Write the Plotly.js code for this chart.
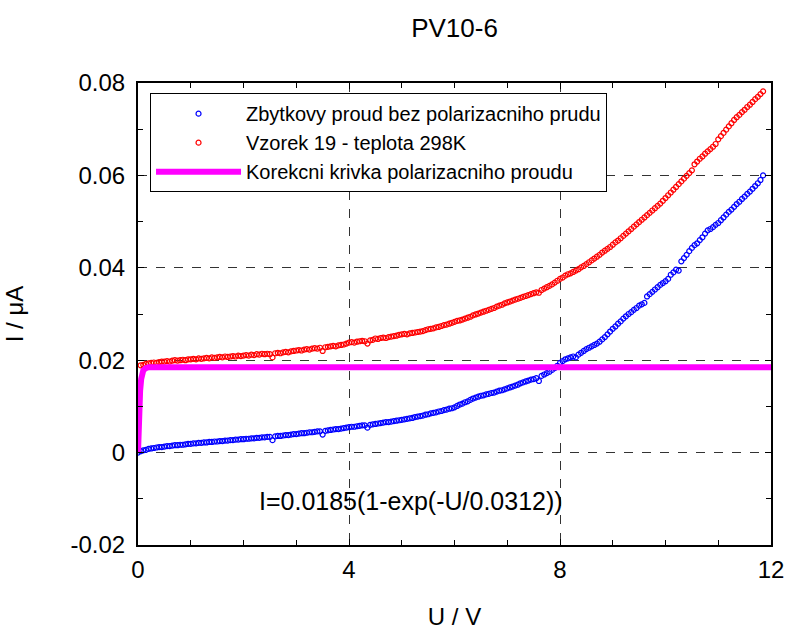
<!DOCTYPE html>
<html>
<head>
<meta charset="utf-8">
<script src="https://cdn.plot.ly/plotly-3.0.1.min.js"></script>
<style>html,body{margin:0;padding:0;background:#fff;}#chart{width:787px;height:631px;}</style>
</head>
<body>
<div id="chart"></div>
<script>
// Voltage U (V)
const U = [
 0,0.05,0.1,0.15,0.2,0.25,0.3,0.35,0.4,0.45,0.5,0.55,0.6,0.65,0.7,0.75,0.8,0.85,0.9,0.95,
 1,1.05,1.1,1.15,1.2,1.25,1.3,1.35,1.4,1.45,1.5,1.55,1.6,1.65,1.7,1.75,1.8,1.85,1.9,1.95,
 2,2.05,2.1,2.15,2.2,2.25,2.3,2.35,2.4,2.45,2.5,2.55,2.6,2.65,2.7,2.75,2.8,2.85,2.9,2.95,
 3,3.05,3.1,3.15,3.2,3.25,3.3,3.35,3.4,3.45,3.5,3.55,3.6,3.65,3.7,3.75,3.8,3.85,3.9,3.95,
 4,4.05,4.1,4.15,4.2,4.25,4.3,4.35,4.4,4.45,4.5,4.55,4.6,4.65,4.7,4.75,4.8,4.85,4.9,4.95,
 5,5.05,5.1,5.15,5.2,5.25,5.3,5.35,5.4,5.45,5.5,5.55,5.6,5.65,5.7,5.75,5.8,5.85,5.9,5.95,
 6,6.05,6.1,6.15,6.2,6.25,6.3,6.35,6.4,6.45,6.5,6.55,6.6,6.65,6.7,6.75,6.8,6.85,6.9,6.95,
 7,7.05,7.1,7.15,7.2,7.25,7.3,7.35,7.4,7.45,7.5,7.55,7.6,7.65,7.7,7.75,7.8,7.85,7.9,7.95,
 8,8.05,8.1,8.15,8.2,8.25,8.3,8.35,8.4,8.45,8.5,8.55,8.6,8.65,8.7,8.75,8.8,8.85,8.9,8.95,
 9,9.05,9.1,9.15,9.2,9.25,9.3,9.35,9.4,9.45,9.5,9.55,9.6,9.65,9.7,9.75,9.8,9.85,9.9,9.95,
 10,10.05,10.1,10.15,10.2,10.25,10.3,10.35,10.4,10.45,10.5,10.55,10.6,10.65,10.7,10.75,10.8,10.85,10.9,10.95,
 11,11.05,11.1,11.15,11.2,11.25,11.3,11.35,11.4,11.45,11.5,11.55,11.6,11.65,11.7,11.75,11.8,11.85
];

// Zbytkovy proud bez polarizacniho prudu (blue)
const residual = [
 0.0000,0.0003,0.0005,0.0006,0.0008,0.0009,0.0010,0.0011,0.0012,0.0012,0.0013,0.0014,0.0014,0.0015,0.0016,0.0016,0.0017,0.0017,0.0018,0.0019,
 0.0019,0.0020,0.0020,0.0021,0.0021,0.0022,0.0022,0.0023,0.0023,0.0024,0.0024,0.0025,0.0025,0.0026,0.0026,0.0027,0.0027,0.0028,0.0028,0.0029,
 0.0029,0.0030,0.0030,0.0031,0.0031,0.0032,0.0032,0.0033,0.0033,0.0034,0.0034,0.0027,0.0035,0.0036,0.0036,0.0037,0.0038,0.0038,0.0039,0.0040,
 0.0040,0.0041,0.0042,0.0042,0.0043,0.0044,0.0044,0.0045,0.0046,0.0046,0.0039,0.0047,0.0048,0.0049,0.0050,0.0051,0.0051,0.0052,0.0053,0.0054,
 0.0055,0.0056,0.0056,0.0057,0.0058,0.0059,0.0059,0.0054,0.0060,0.0061,0.0062,0.0063,0.0064,0.0065,0.0066,0.0066,0.0067,0.0068,0.0069,0.0070,
 0.0071,0.0072,0.0073,0.0074,0.0075,0.0077,0.0078,0.0079,0.0080,0.0082,0.0083,0.0085,0.0086,0.0087,0.0089,0.0090,0.0092,0.0093,0.0095,0.0096,
 0.0098,0.0101,0.0104,0.0106,0.0109,0.0111,0.0114,0.0117,0.0119,0.0121,0.0123,0.0124,0.0126,0.0127,0.0129,0.0130,0.0132,0.0134,0.0135,0.0137,
 0.0139,0.0141,0.0143,0.0145,0.0147,0.0150,0.0152,0.0154,0.0156,0.0158,0.0159,0.0161,0.0155,0.0166,0.0169,0.0172,0.0175,0.0179,0.0183,0.0188,
 0.0194,0.0198,0.0202,0.0204,0.0206,0.0208,0.0206,0.0212,0.0216,0.0220,0.0224,0.0227,0.0230,0.0233,0.0236,0.0240,0.0245,0.0250,0.0256,0.0262,
 0.0268,0.0273,0.0279,0.0284,0.0290,0.0295,0.0300,0.0304,0.0309,0.0313,0.0318,0.0321,0.0324,0.0338,0.0343,0.0348,0.0353,0.0358,0.0363,0.0367,
 0.0371,0.0376,0.0385,0.0390,0.0396,0.0394,0.0414,0.0421,0.0428,0.0436,0.0443,0.0449,0.0453,0.0460,0.0466,0.0474,0.0481,0.0484,0.0488,0.0493,
 0.0497,0.0503,0.0509,0.0515,0.0521,0.0526,0.0532,0.0538,0.0543,0.0549,0.0554,0.0560,0.0565,0.0571,0.0577,0.0583,0.0590,0.0600
];

// Vzorek 19 - teplota 298K (red)
const sample19 = [
 null,0.0189,0.0190,0.0192,0.0193,0.0194,0.0195,0.0194,0.0196,0.0197,0.0197,0.0198,0.0197,0.0199,0.0200,0.0199,0.0200,0.0201,0.0200,0.0202,
 0.0202,0.0203,0.0202,0.0204,0.0203,0.0204,0.0205,0.0204,0.0206,0.0205,0.0206,0.0207,0.0206,0.0208,0.0207,0.0208,0.0209,0.0208,0.0210,0.0209,
 0.0210,0.0211,0.0210,0.0212,0.0211,0.0213,0.0212,0.0214,0.0213,0.0214,0.0213,0.0206,0.0215,0.0216,0.0215,0.0217,0.0218,0.0217,0.0219,0.0220,
 0.0221,0.0222,0.0221,0.0223,0.0224,0.0223,0.0225,0.0226,0.0225,0.0227,0.0220,0.0228,0.0229,0.0230,0.0231,0.0230,0.0232,0.0233,0.0234,0.0236,
 0.0238,0.0239,0.0238,0.0240,0.0241,0.0242,0.0241,0.0236,0.0243,0.0244,0.0247,0.0246,0.0248,0.0249,0.0248,0.0250,0.0251,0.0252,0.0253,0.0255,
 0.0256,0.0257,0.0256,0.0258,0.0259,0.0260,0.0261,0.0262,0.0263,0.0265,0.0267,0.0268,0.0269,0.0271,0.0272,0.0274,0.0276,0.0277,0.0279,0.0281,
 0.0283,0.0285,0.0286,0.0288,0.0290,0.0292,0.0294,0.0297,0.0299,0.0301,0.0303,0.0305,0.0307,0.0309,0.0311,0.0313,0.0316,0.0318,0.0320,0.0323,
 0.0325,0.0327,0.0329,0.0331,0.0333,0.0335,0.0337,0.0339,0.0341,0.0343,0.0345,0.0347,0.0346,0.0352,0.0355,0.0358,0.0361,0.0364,0.0368,0.0372,
 0.0376,0.0379,0.0383,0.0386,0.0388,0.0391,0.0394,0.0397,0.0401,0.0404,0.0408,0.0412,0.0416,0.0420,0.0424,0.0428,0.0433,0.0437,0.0441,0.0445,
 0.0450,0.0455,0.0459,0.0464,0.0469,0.0474,0.0479,0.0484,0.0489,0.0494,0.0499,0.0504,0.0509,0.0514,0.0519,0.0524,0.0529,0.0534,0.0539,0.0545,
 0.0551,0.0557,0.0563,0.0569,0.0575,0.0581,0.0587,0.0593,0.0599,0.0605,0.0611,0.0624,0.0630,0.0636,0.0641,0.0647,0.0652,0.0657,0.0662,0.0668,
 0.0678,0.0685,0.0692,0.0699,0.0706,0.0713,0.0720,0.0726,0.0731,0.0737,0.0742,0.0748,0.0753,0.0759,0.0765,0.0770,0.0776,0.0782
];

// Korekcni krivka polarizacniho proudu (magenta)
const corrU = [0, 0.01, 0.02, 0.04, 0.06, 0.08, 0.1, 0.15, 0.2, 0.3, 12];
const corrI = [0, 0.0051, 0.0088, 0.0134, 0.0159, 0.0171, 0.0178, 0.0183, 0.0185, 0.0185, 0.0185];

const xTicks = [0, 4, 8, 12];
const xTickText = ['0', '4', '8', '12'];
const yTicks = [-0.02, 0, 0.02, 0.04, 0.06, 0.08];
const yTickText = ['-0.02', '0', '0.02', '0.04', '0.06', '0.08'];

const FONT = 'Liberation Sans, Arial, sans-serif';

const traces = [
  {x: U, y: residual, type: 'scatter', mode: 'markers', name: 'Zbytkovy proud bez polarizacniho prudu',
   marker: {symbol: 'circle-open', size: 5, color: '#0000ff', line: {width: 1.2, color: '#0000ff'}}},
  {x: U, y: sample19, type: 'scatter', mode: 'markers', name: 'Vzorek 19 - teplota 298K',
   marker: {symbol: 'circle-open', size: 5, color: '#ff0000', line: {width: 1.2, color: '#ff0000'}}},
  {x: corrU, y: corrI, type: 'scatter', mode: 'lines', name: 'Korekcni krivka polarizacniho proudu',
   line: {color: '#ff00ff', width: 6}}
];

const axisCommon = {
  showline: true, linecolor: '#000', linewidth: 2, mirror: 'allticks',
  ticks: 'inside', ticklen: 6, tickwidth: 1, tickcolor: '#000',
  showgrid: true, gridcolor: '#333', griddash: 'dash', gridwidth: 1,
  zeroline: false, tickfont: {family: FONT, size: 24, color: '#000'},
  tickmode: 'array'
};

const layout = {
  width: 787, height: 631,
  margin: {l: 138, r: 16, t: 83, b: 86},
  paper_bgcolor: '#fff', plot_bgcolor: '#fff',
  font: {family: FONT, color: '#000'},
  title: {text: 'PV10-6', font: {family: FONT, size: 26, color: '#000'},
          x: 0.5, xref: 'paper', y: 1 - 28/631, yanchor: 'middle'},
  xaxis: Object.assign({}, axisCommon, {
    range: [0, 12], tickvals: xTicks, ticktext: xTickText, ticklabelstandoff: 2,
    minor: {tickmode: 'linear', tick0: 0, dtick: 1, ticks: 'inside', ticklen: 5, tickcolor: '#000', showgrid: false},
    title: {text: 'U / V', font: {family: FONT, size: 24, color: '#000'}, standoff: 26}
  }),
  yaxis: Object.assign({}, axisCommon, {
    range: [-0.02, 0.08], tickvals: yTicks, ticktext: yTickText, ticklabelstandoff: 6,
    minor: {tickmode: 'linear', tick0: 0, dtick: 0.01, ticks: 'inside', ticklen: 5, tickcolor: '#000', showgrid: false},
    title: {text: 'I / μA', font: {family: FONT, size: 24, color: '#000'}, standoff: 40}
  }),
  showlegend: true,
  legend: {x: 0.019, y: 0.978, xanchor: 'left', yanchor: 'top', bgcolor: '#fff',
           bordercolor: '#000', borderwidth: 1, font: {family: FONT, size: 20, color: '#000'},
           itemwidth: 85, tracegroupgap: 0},
  annotations: [{
    x: 5.18, y: -0.0104, xref: 'x', yref: 'y', text: 'I=0.0185(1-exp(-U/0.0312))',
    showarrow: false, font: {family: FONT, size: 25, color: '#000'}
  }]
};

Plotly.newPlot('chart', traces, layout, {displayModeBar: false, staticPlot: true});
</script>
</body>
</html>
